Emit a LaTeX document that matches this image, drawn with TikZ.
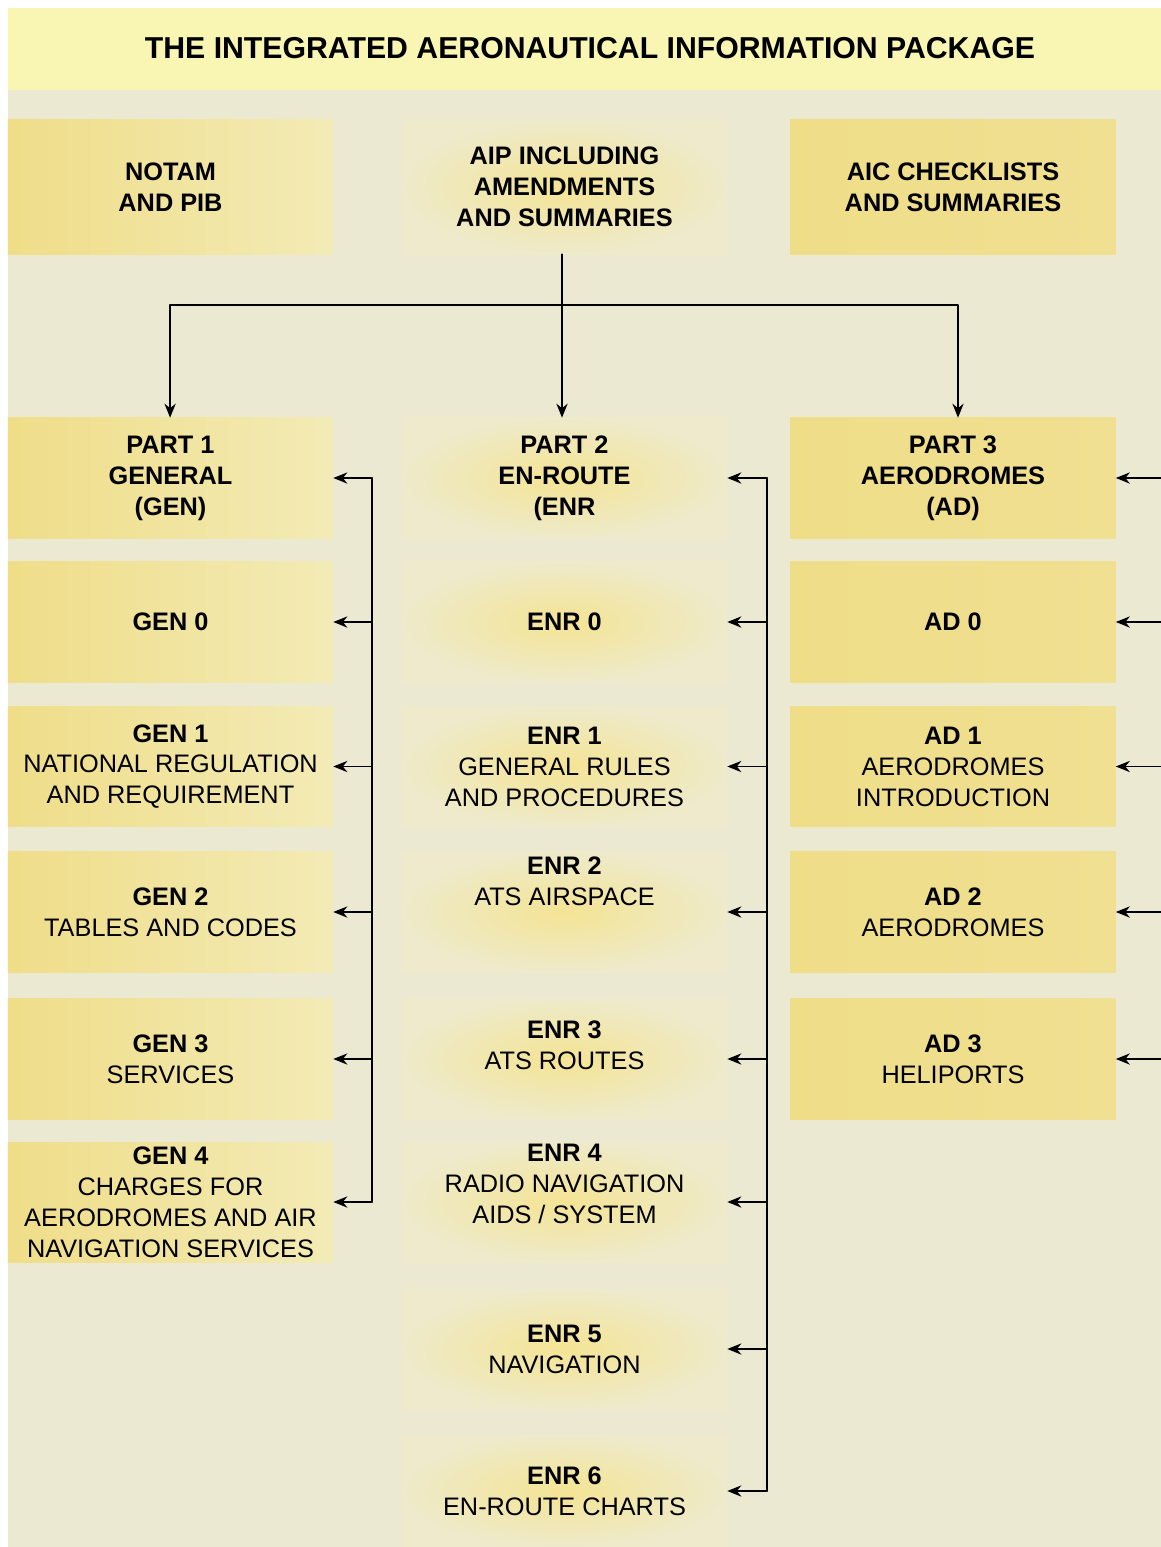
\documentclass[tikz,border=0pt]{standalone}
\usepackage{fontspec}
\setmainfont{Liberation Sans}
\usetikzlibrary{arrows.meta}
\definecolor{bgcream}{HTML}{ECE9D3}
\definecolor{bglight}{HTML}{FAF8DF}
\definecolor{titleband}{HTML}{F8F6B2}
\definecolor{boxyellow}{HTML}{EFDD88}
\definecolor{boxpale}{HTML}{F3EBB6}
\definecolor{boxedge}{HTML}{EEEACB}
\definecolor{glow}{HTML}{F4E494}
\begin{document}
\begin{tikzpicture}[x=0.025cm,y=-0.025cm,>={Stealth[length=10pt,width=8pt]},line join=round,line cap=round,
	box/.style={minimum width=8.125cm,minimum height=3cm,align=center,inner sep=0pt,font=\fontsize{18}{22}\selectfont},
	leftbox/.style={box,left color=boxyellow,right color=boxpale},
	midbox/.style={box,inner color=glow,outer color=boxedge},
	rightbox/.style={box,left color=boxyellow,right color=boxyellow!80!boxpale},
	link/.style={line width=1.2pt,black}]
	\useasboundingbox (0,0) rectangle (1161,1547);
	% background and title band
	\shade[left color=bgcream,middle color=bglight,right color=bgcream] (8,8) rectangle (1161,1547);
	\fill[titleband] (8,8) rectangle (1161,90);
	\node[font=\bfseries\fontsize{21.5}{24}\selectfont] (title) at (590,48) {THE INTEGRATED AERONAUTICAL INFORMATION PACKAGE};
	\coordinate (fork) at (562,305);
	\coordinate (genbus) at (372,0);
	\coordinate (enrbus) at (767,0);
	\coordinate (adfeed) at (1161,0);
	% top row
	\node[leftbox,minimum height=3.35cm] (notam) at (170.5,187) {\textbf{NOTAM}\\\textbf{AND PIB}};
	\node[midbox,minimum height=3.35cm] (aip) at (564.5,187) {\textbf{AIP INCLUDING}\\\textbf{AMENDMENTS}\\\textbf{AND SUMMARIES}};
	\node[rightbox,minimum height=3.35cm] (aic) at (953,187) {\textbf{AIC CHECKLISTS}\\\textbf{AND SUMMARIES}};
	% parts
	\node[leftbox] (part1) at (170.5,478) {\textbf{PART 1}\\\textbf{GENERAL}\\\textbf{(GEN)}};
	\node[midbox] (part2) at (564.5,478) {\textbf{PART 2}\\\textbf{EN-ROUTE}\\\textbf{(ENR}};
	\node[rightbox] (part3) at (953,478) {\textbf{PART 3}\\\textbf{AERODROMES}\\\textbf{(AD)}};
	% GEN
	\node[leftbox] (gen0) at (170.5,622) {\textbf{GEN 0}};
	\node[leftbox] (gen1) at (170.5,766.5) {\textbf{GEN 1}\\NATIONAL REGULATION\\AND REQUIREMENT};
	\node[leftbox] (gen2) at (170.5,912) {\textbf{GEN 2}\\TABLES AND CODES};
	\node[leftbox] (gen3) at (170.5,1059) {\textbf{GEN 3}\\SERVICES};
	\node[leftbox] (gen4) at (170.5,1202) {\textbf{GEN 4}\\CHARGES FOR\\AERODROMES AND AIR\\NAVIGATION SERVICES};
	% ENR
	\node[midbox] (enr0) at (564.5,622) {\textbf{ENR 0}};
	\node[midbox] (enr1) at (564.5,766.5) {\textbf{ENR 1}\\GENERAL RULES\\AND PROCEDURES};
	\node[midbox,text depth=44pt] (enr2) at (564.5,912) {\textbf{ENR 2}\\ATS AIRSPACE};
	\node[midbox,text depth=20pt] (enr3) at (564.5,1059) {\textbf{ENR 3}\\ATS ROUTES};
	\node[midbox,text depth=26pt] (enr4) at (564.5,1202) {\textbf{ENR 4}\\RADIO NAVIGATION\\AIDS / SYSTEM};
	\node[midbox] (enr5) at (564.5,1349) {\textbf{ENR 5}\\NAVIGATION};
	\node[midbox,minimum height=2.8cm] (enr6) at (564.5,1491) {\textbf{ENR 6}\\EN-ROUTE CHARTS};
	% AD
	\node[rightbox] (ad0) at (953,622) {\textbf{AD 0}};
	\node[rightbox] (ad1) at (953,766.5) {\textbf{AD 1}\\AERODROMES\\INTRODUCTION};
	\node[rightbox] (ad2) at (953,912) {\textbf{AD 2}\\AERODROMES};
	\node[rightbox] (ad3) at (953,1059) {\textbf{AD 3}\\HELIPORTS};
	% connectors from the AIP
	\draw[link,->] (fork |- aip.south) -- (fork |- part2.north);
	\draw[link,->] (fork) -| ([xshift=-0.01cm]part1.north);
	\draw[link,->] (fork) -| ([xshift=0.125cm]part3.north);
	% GEN bus
	\draw[link] (genbus |- part1.east) -- (genbus |- gen4.east);
	\draw[link,->] (genbus |- part1.east) -- (part1.east);
	\draw[link,->] (genbus |- gen0.east) -- (gen0.east);
	\draw[link,->] (genbus |- gen1.east) -- (gen1.east);
	\draw[link,->] (genbus |- gen2.east) -- (gen2.east);
	\draw[link,->] (genbus |- gen3.east) -- (gen3.east);
	\draw[link,->] (genbus |- gen4.east) -- (gen4.east);
	% ENR bus
	\draw[link] (enrbus |- part2.east) -- (enrbus |- enr6.east);
	\draw[link,->] (enrbus |- part2.east) -- (part2.east);
	\draw[link,->] (enrbus |- enr0.east) -- (enr0.east);
	\draw[link,->] (enrbus |- enr1.east) -- (enr1.east);
	\draw[link,->] (enrbus |- enr2.east) -- (enr2.east);
	\draw[link,->] (enrbus |- enr3.east) -- (enr3.east);
	\draw[link,->] (enrbus |- enr4.east) -- (enr4.east);
	\draw[link,->] (enrbus |- enr5.east) -- (enr5.east);
	\draw[link,->] (enrbus |- enr6.east) -- (enr6.east);
	% AD feeds
	\draw[link,->] (adfeed |- part3.east) -- (part3.east);
	\draw[link,->] (adfeed |- ad0.east) -- (ad0.east);
	\draw[link,->] (adfeed |- ad1.east) -- (ad1.east);
	\draw[link,->] (adfeed |- ad2.east) -- (ad2.east);
	\draw[link,->] (adfeed |- ad3.east) -- (ad3.east);
\end{tikzpicture}
\end{document}
